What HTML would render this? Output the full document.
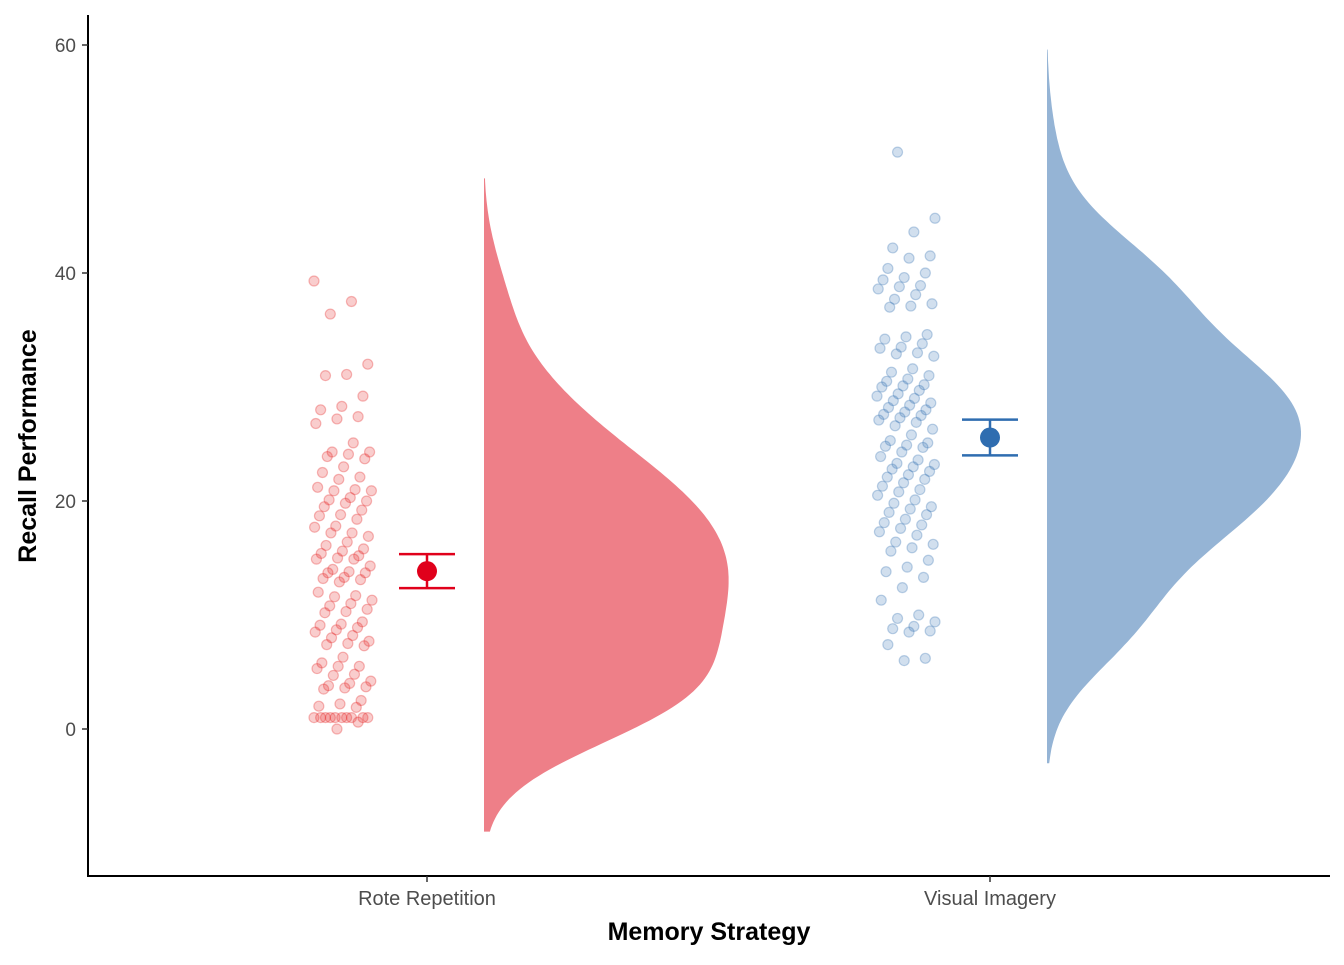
<!DOCTYPE html>
<html><head><meta charset="utf-8"><style>
body{margin:0;background:#fff}
svg text{font-family:"Liberation Sans",Arial,sans-serif}
</style></head><body>
<svg id="chart" width="1344" height="960" xmlns="http://www.w3.org/2000/svg"></svg>
<script>
const categories=["Rote Repetition","Visual Imagery"];
const roteValues=[39.3,37.5,36.4,32,31.1,31,29.2,28.3,28,27.4,27.2,26.8,25.1,24.3,24.3,24.1,23.9,23.7,23,22.5,22.1,21.9,21.2,21,20.9,20.9,20.3,20.1,20,19.8,19.5,19.2,18.8,18.7,18.4,17.8,17.7,17.2,17.2,16.9,16.4,16.1,15.8,15.6,15.4,15.2,15,14.9,14.9,14,14.3,13.8,13.7,13.7,13.3,13.2,13.1,12.9,12,11.7,11.6,11.3,11,10.8,10.5,10.3,10.2,9.4,9.2,9.1,8.9,8.7,8.5,8.2,8,7.7,7.5,7.4,7.3,6.3,5.8,5.5,5.5,5.3,4.8,4.7,4.2,4,3.8,3.7,3.6,3.5,2.5,2.2,2,1.9,1,1,1,1,1,1,1,1,1,1,0.6,0];
const visualValues=[50.6,44.8,43.6,42.2,41.5,41.3,40.4,40,39.6,39.4,38.9,38.8,38.6,38.1,37.7,37.3,37.1,37,34.6,34.4,34.2,33.8,33.5,33.4,33,32.9,32.7,31.6,31.3,31,30.7,30.5,30.2,30.1,30,29.7,29.4,29.2,29,28.8,28.6,28.4,28.2,28,27.8,27.6,27.5,27.3,27.1,26.9,26.6,26.3,25.8,25.3,25.1,24.9,24.8,24.7,24.3,23.9,23.6,23.3,23.2,23,22.8,22.6,22.3,22.1,21.9,21.6,21.3,21,20.8,20.5,20.1,19.8,19.5,19.3,19,18.8,18.4,18.1,17.9,17.6,17.3,17,16.4,16.2,15.9,15.6,14.8,14.2,13.8,13.3,12.4,11.3,10,9.7,9.4,9,8.8,8.6,8.5,7.4,6.2,6];
const yTicks=[0,20,40,60];

const NS="http://www.w3.org/2000/svg";
const svg=document.getElementById('chart');
function el(t,a,p){const e=document.createElementNS(NS,t);for(const k in a)e.setAttribute(k,a[k]);(p||svg).appendChild(e);return e;}
const y=v=>729-v*(684/60);
const xc=[427,990];
const cols=[{pt:"#E41A1C",dens:"#EE7F88",mean:"#E0001B"},{pt:"#2F6DB0",dens:"#95B4D5",mean:"#2F6DB0"}];
const series=[roteValues,visualValues];

function stats(a){const n=a.length,m=a.reduce((s,v)=>s+v,0)/n;const sd=Math.sqrt(a.reduce((s,v)=>s+(v-m)*(v-m),0)/(n-1));return{n,m,sd,se:sd/Math.sqrt(n)};}
function kde(a,bw,x){let s=0;for(const v of a){const z=(x-v)/bw;s+=Math.exp(-0.5*z*z);}return s/(a.length*bw*Math.sqrt(2*Math.PI));}

const dens=series.map(a=>{const bw=4.2;const ext=9;const lo=Math.min(...a)-ext,hi=Math.max(...a)+ext;const pts=[];for(let i=0;i<=200;i++){const v=lo+(hi-lo)*i/200;pts.push([v,kde(a,bw,v)]);}return{pts,lo,hi};});
const gmax=Math.max(...dens.map(d=>Math.max(...d.pts.map(p=>p[1]))));
const k=254/gmax;
dens.forEach((d,i)=>{
  const x0=xc[i]+57;
  let p=`M${x0},${y(d.lo)}`;
  d.pts.forEach(q=>p+=` L${(x0+q[1]*k).toFixed(1)},${y(q[0]).toFixed(1)}`);
  p+=` L${x0},${y(d.hi)} Z`;
  const e=el('path',{d:p,fill:cols[i].dens});
  
  
});

series.forEach((a,i)=>{
  const g=el('g',{});
  
  
  a.forEach((v,j)=>{
    const jit=(((j*7919+i*131)%97)/96-0.5)*58;
    const c=el('circle',{cx:xc[i]-84+jit,cy:y(v),r:5,fill:cols[i].pt,'fill-opacity':0.22,stroke:cols[i].pt,'stroke-opacity':0.3,'stroke-width':1.2},g);
    
    
  });
});

series.forEach((a,i)=>{
  const st=stats(a);const c=cols[i].mean;const x=xc[i];const h=st.se*1.65;
  const g=el('g',{stroke:c,'stroke-width':2.5});
  
  
  el('line',{x1:x,x2:x,y1:y(st.m+h),y2:y(st.m-h)},g);
  el('line',{x1:x-28,x2:x+28,y1:y(st.m+h),y2:y(st.m+h)},g);
  el('line',{x1:x-28,x2:x+28,y1:y(st.m-h),y2:y(st.m-h)},g);
  el('circle',{cx:x,cy:y(st.m),r:10,fill:c,stroke:'none'},g);
});

const ax=el('g',{});


el('line',{x1:88,x2:88,y1:15,y2:877,stroke:'#000','stroke-width':2},ax);
el('line',{x1:87,x2:1330,y1:876,y2:876,stroke:'#000','stroke-width':2},ax);
yTicks.forEach(t=>{
  el('line',{x1:82,x2:88,y1:y(t),y2:y(t),stroke:'#333','stroke-width':1.5},ax);
  const tx=el('text',{x:76,y:y(t)+7,'text-anchor':'end','font-size':19,fill:'#4d4d4d'},ax);
  tx.textContent=t;
  
  
});
categories.forEach((c,i)=>{
  el('line',{x1:xc[i],x2:xc[i],y1:876,y2:882,stroke:'#333','stroke-width':1.5},ax);
  const tx=el('text',{x:xc[i],y:905,'text-anchor':'middle','font-size':20,fill:'#4d4d4d'},ax);
  tx.textContent=c;
  
  
});
const xt=el('text',{x:709,y:940,'text-anchor':'middle','font-size':25,'font-weight':'bold',fill:'#000'});
xt.textContent='Memory Strategy';


const yt=el('text',{x:0,y:0,'text-anchor':'middle','font-size':25,'font-weight':'bold',fill:'#000',transform:'translate(36,446) rotate(-90)'});
yt.textContent='Recall Performance';


</script>
</body></html>
